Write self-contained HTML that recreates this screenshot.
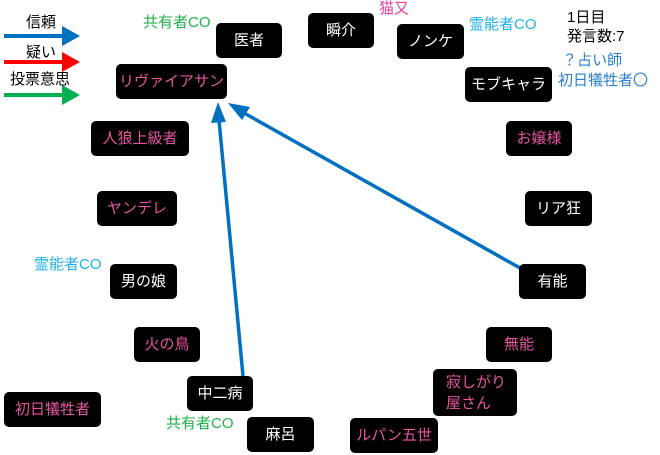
<!DOCTYPE html>
<html><head><meta charset="utf-8"><style>
body{margin:0;width:660px;height:455px;background:#fff;position:relative;overflow:hidden;font-family:"Liberation Sans","Noto Sans CJK JP",sans-serif;}
.b{position:absolute;background:#000;border-radius:5px;color:#fff;font-size:15px;display:flex;align-items:center;justify-content:center;line-height:18px;}
.p{color:#e8559f;}
.t{position:absolute;font-size:15px;white-space:nowrap;line-height:16px;}
svg{position:absolute;left:0;top:0;}
</style></head><body>
<svg width="660" height="455">
<g stroke-width="4">
<line x1="4" y1="36" x2="64" y2="36" stroke="#0070c0"/><path d="M62,26 L80,36 L62,46 z" fill="#0070c0"/>
<line x1="4" y1="62" x2="64" y2="62" stroke="#ff0000"/><path d="M62,52 L80,62 L62,72 z" fill="#ff0000"/>
<line x1="4" y1="95" x2="64" y2="95" stroke="#00b050"/><path d="M62,85 L80,95 L62,105 z" fill="#00b050"/>
</g>
<line x1="243" y1="376" x2="219" y2="120" stroke="#0070c0" stroke-width="3.5"/>
<path d="M218,102 L226,122 L211,123 z" fill="#0070c0"/>
<line x1="520" y1="268" x2="244" y2="113" stroke="#0070c0" stroke-width="3.5"/>
<path d="M228,103 L250,107 L242,120 z" fill="#0070c0"/>
</svg>
<div class="t" style="left:26px;top:15px;">信頼</div>
<div class="t" style="left:26px;top:45px;">疑い</div>
<div class="t" style="left:10px;top:72px;">投票意思</div>
<div class="t" style="left:143px;top:15px;color:#22b04a;">共有者CO</div>
<div class="t" style="left:379px;top:1px;color:#e83fa0;">猫又</div>
<div class="t" style="left:469px;top:17px;color:#1fb0ef;">霊能者CO</div>
<div class="t" style="left:567px;top:8px;line-height:19px;">1日目<br>発言数:7</div>
<div class="t" style="left:558px;top:51px;color:#2a7fcf;line-height:20px;">&nbsp;？占い師<br>初日犠牲者〇</div>
<div class="t" style="left:34px;top:257px;color:#1fb0ef;">霊能者CO</div>
<div class="t" style="left:166px;top:416px;color:#22b04a;">共有者CO</div>

<div class="b" style="left:216px;top:23px;width:66px;height:35px;">医者</div>
<div class="b" style="left:308px;top:13px;width:66px;height:35px;">瞬介</div>
<div class="b" style="left:397px;top:24px;width:67px;height:35px;">ノンケ</div>
<div class="b p" style="left:116px;top:64px;width:111px;height:35px;">リヴァイアサン</div>
<div class="b" style="left:465px;top:67px;width:87px;height:35px;">モブキャラ</div>
<div class="b p" style="left:91px;top:121px;width:98px;height:35px;">人狼上級者</div>
<div class="b p" style="left:506px;top:121px;width:66px;height:35px;">お嬢様</div>
<div class="b p" style="left:97px;top:191px;width:80px;height:35px;">ヤンデレ</div>
<div class="b" style="left:525px;top:191px;width:67px;height:35px;">リア狂</div>
<div class="b" style="left:110px;top:264px;width:67px;height:35px;">男の娘</div>
<div class="b" style="left:519px;top:264px;width:67px;height:35px;">有能</div>
<div class="b p" style="left:134px;top:327px;width:66px;height:35px;">火の鳥</div>
<div class="b p" style="left:486px;top:327px;width:66px;height:35px;">無能</div>
<div class="b" style="left:187px;top:376px;width:66px;height:35px;">中二病</div>
<div class="b p" style="left:433px;top:369px;width:84px;height:47px;justify-content:flex-start;padding-left:13px;box-sizing:border-box;line-height:21px;">寂しがり<br>屋さん</div>
<div class="b p" style="left:4px;top:392px;width:97px;height:35px;">初日犠牲者</div>
<div class="b" style="left:247px;top:417px;width:67px;height:35px;">麻呂</div>
<div class="b p" style="left:350px;top:418px;width:88px;height:35px;">ルパン五世</div>
</body></html>
